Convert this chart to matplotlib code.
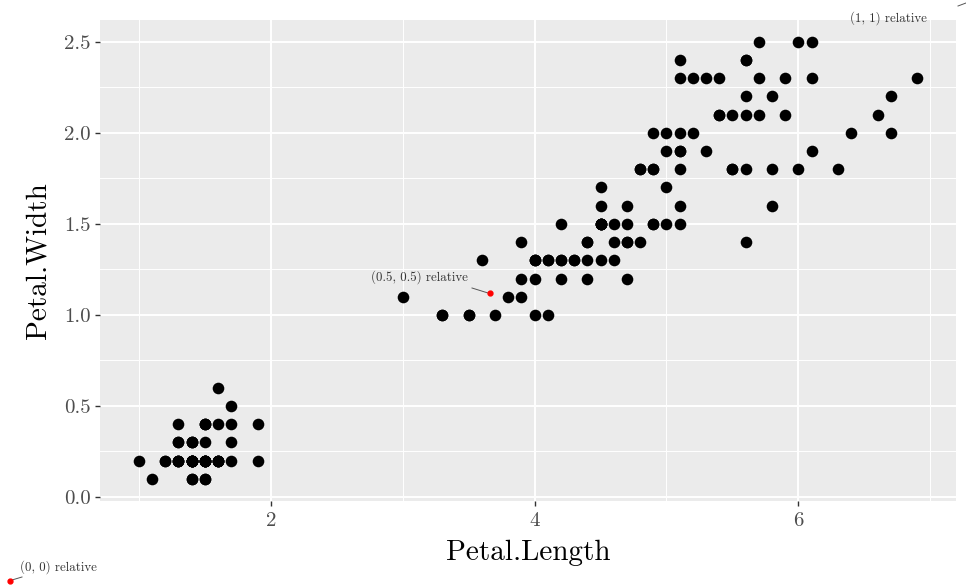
import matplotlib
matplotlib.use("Agg")
import matplotlib.pyplot as plt
from matplotlib.ticker import MultipleLocator
from matplotlib.lines import Line2D

# iris: Petal.Length / Petal.Width
petal_length = [
    1.4, 1.4, 1.3, 1.5, 1.4, 1.7, 1.4, 1.5, 1.4, 1.5, 1.5, 1.6, 1.4, 1.1, 1.2, 1.5, 1.3, 1.4, 1.7, 1.5,
    1.7, 1.5, 1.0, 1.7, 1.9, 1.6, 1.6, 1.5, 1.4, 1.6, 1.6, 1.5, 1.5, 1.4, 1.5, 1.2, 1.3, 1.4, 1.3, 1.5,
    1.3, 1.3, 1.3, 1.6, 1.9, 1.4, 1.6, 1.4, 1.5, 1.4,
    4.7, 4.5, 4.9, 4.0, 4.6, 4.5, 4.7, 3.3, 4.6, 3.9, 3.5, 4.2, 4.0, 4.7, 3.6, 4.4, 4.5, 4.1, 4.5, 3.9,
    4.8, 4.0, 4.9, 4.7, 4.3, 4.4, 4.8, 5.0, 4.5, 3.5, 3.8, 3.7, 3.9, 5.1, 4.5, 4.5, 4.7, 4.4, 4.1, 4.0,
    4.4, 4.6, 4.0, 3.3, 4.2, 4.2, 4.2, 4.3, 3.0, 4.1,
    6.0, 5.1, 5.9, 5.6, 5.8, 6.6, 4.5, 6.3, 5.8, 6.1, 5.1, 5.3, 5.5, 5.0, 5.1, 5.3, 5.5, 6.7, 6.9, 5.0,
    5.7, 4.9, 6.7, 4.9, 5.7, 6.0, 4.8, 4.9, 5.6, 5.8, 6.1, 6.4, 5.6, 5.1, 5.6, 6.1, 5.6, 5.5, 5.4, 5.4,
    5.6, 5.1, 5.1, 5.9, 5.7, 5.2, 5.0, 5.2, 5.4, 5.1]
petal_width = [
    0.2, 0.2, 0.2, 0.2, 0.2, 0.4, 0.3, 0.2, 0.2, 0.1, 0.2, 0.2, 0.1, 0.1, 0.2, 0.4, 0.4, 0.3, 0.3, 0.3,
    0.2, 0.4, 0.2, 0.5, 0.2, 0.2, 0.4, 0.2, 0.2, 0.2, 0.2, 0.4, 0.1, 0.2, 0.2, 0.2, 0.2, 0.1, 0.2, 0.2,
    0.3, 0.3, 0.2, 0.6, 0.4, 0.3, 0.2, 0.2, 0.2, 0.2,
    1.4, 1.5, 1.5, 1.3, 1.5, 1.3, 1.6, 1.0, 1.3, 1.4, 1.0, 1.5, 1.0, 1.4, 1.3, 1.4, 1.5, 1.0, 1.5, 1.1,
    1.8, 1.3, 1.5, 1.2, 1.3, 1.4, 1.4, 1.7, 1.5, 1.0, 1.1, 1.0, 1.2, 1.6, 1.5, 1.6, 1.5, 1.3, 1.3, 1.3,
    1.2, 1.4, 1.2, 1.0, 1.3, 1.2, 1.3, 1.3, 1.1, 1.3,
    2.5, 1.9, 2.1, 1.8, 2.2, 2.1, 1.7, 1.8, 1.8, 2.5, 2.0, 1.9, 2.1, 2.0, 2.4, 2.3, 1.8, 2.2, 2.3, 1.5,
    2.3, 2.0, 2.0, 1.8, 2.1, 1.8, 1.8, 1.8, 2.1, 1.6, 1.9, 2.0, 2.2, 1.5, 1.4, 2.3, 2.4, 1.8, 2.1, 2.1,
    2.4, 2.3, 1.9, 2.3, 2.5, 2.3, 1.9, 2.0, 2.3, 1.8]

x_ticks = [2, 4, 6]
y_ticks = [0.0, 0.5, 1.0, 1.5, 2.0, 2.5]
y_tick_labels = ["0.0", "0.5", "1.0", "1.5", "2.0", "2.5"]
notes = ["(0, 0) relative", "(0.5, 0.5) relative", "(1, 1) relative"]

plt.rcParams['font.family'] = ['cmr10', 'DejaVu Serif']
plt.rcParams['axes.formatter.use_mathtext'] = True

W, H = 966, 588
fig = plt.figure(figsize=(W / 100.0, H / 100.0), dpi=100, facecolor='white')


def px(x, y):
    # pixel position -> figure fraction
    return x / float(W), 1 - y / float(H)


ax = fig.add_axes([100.0 / W, (H - 500.6) / H, 856.0 / W, 480.6 / H])
ax.set_facecolor('#EBEBEB')
for s in ax.spines.values():
    s.set_visible(False)

ax.scatter(petal_length, petal_width, s=70, c='black', linewidths=0, zorder=3)

ax.set_xlim(0.705, 7.195)
ax.set_ylim(-0.02, 2.62)
ax.set_xticks(x_ticks)
ax.set_xticklabels([str(t) for t in x_ticks])
ax.set_yticks(y_ticks)
ax.set_yticklabels(y_tick_labels)
ax.xaxis.set_minor_locator(MultipleLocator(1))
ax.yaxis.set_minor_locator(MultipleLocator(0.25))
ax.grid(True, which='major', color='white', linewidth=1.4, zorder=0)
ax.grid(True, which='minor', color='white', linewidth=0.7, zorder=0)
ax.set_axisbelow(True)
ax.tick_params(which='major', length=3.5, width=1.0, color='#333333',
               labelcolor='#4D4D4D', labelsize=15, pad=3)
ax.tick_params(axis='x', which='major', pad=5)
ax.tick_params(which='minor', length=0)

ax.set_xlabel('Petal.Length', fontsize=21, labelpad=7)
ax.set_ylabel('Petal.Width', fontsize=21, labelpad=9)

# figure-relative annotations
dots = [(10, 581), (490, 293), (970, 5)]
text_pos = [(20, 567, 'left'), (468, 277, 'right'), (927, 18, 'right')]
line_ends = [((12, 580), (22, 577)), ((472, 288), (488, 293)), ((958, 6), (966, 3))]
for (dx, dy), (tx, ty, ha), (p0, p1), txt in zip(dots, text_pos, line_ends, notes):
    fig.text(*px(tx, ty), txt, ha=ha, va='center', fontsize=9.3, color='#333333')
    a, b = px(*p0)
    c, d = px(*p1)
    fig.add_artist(Line2D([a, c], [b, d], transform=fig.transFigure, color='#555555', lw=0.7))
    fig.add_artist(Line2D([px(dx, dy)[0]], [px(dx, dy)[1]], transform=fig.transFigure,
                          marker='o', markersize=3.5, color='red', lw=0))

fig.savefig('out.png', dpi=100)
